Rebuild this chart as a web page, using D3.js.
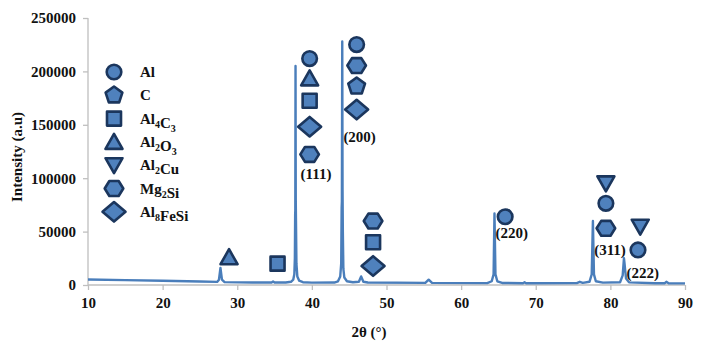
<!DOCTYPE html>
<html>
<head>
<meta charset="utf-8">
<script src="https://cdn.jsdelivr.net/npm/d3@7"></script>
<style>
  body { margin: 0; background: #fff; }
  text { font-family: "Liberation Serif", "Times New Roman", serif; font-weight: bold; fill: #111; }
</style>
</head>
<body>
<svg id="chart" width="708" height="343"></svg>
<script>
/* -------------------------- Data -------------------------- */
// XRD pattern (2theta in degrees, intensity a.u.)
var twoTheta = [10, 15, 20, 25, 27.3, 27.55, 27.75, 27.95, 28.3, 32, 34.6, 34.8, 35.0,
  36.5, 37.2, 37.5, 37.65, 37.72, 37.76, 37.78, 37.81, 37.84, 37.87, 37.93, 38.05, 38.3, 38.8, 40,
  43.0, 43.5, 43.8, 43.93, 43.99, 44.02, 44.07, 44.11, 44.15, 44.22, 44.35, 44.7, 45.5,
  46.3, 46.6, 46.9, 47.5, 55.2, 55.65, 56.1,
  63.5, 64.1, 64.35, 64.47, 64.6, 64.85, 65.5, 68.3, 68.5, 68.7,
  75.5, 75.9, 76.3, 77.2, 77.5, 77.66, 77.8, 78.05, 79,
  81.3, 81.65, 81.82, 81.9, 81.98, 82.1, 82.5, 86, 87.3, 87.5, 87.8, 90];
var intensity = [5200, 4600, 4000, 3300, 2900, 5000, 16000, 5000, 2700, 2400, 2300, 3200, 2300,
  2400, 3000, 5000, 10000, 25000, 66000, 70000, 205000, 80000, 60000, 20000, 8000, 4000, 2600, 2200,
  2300, 3500, 8000, 20000, 72000, 78000, 228000, 90000, 50000, 15000, 7000, 3500, 2600,
  3000, 8000, 3000, 2300, 2000, 5000, 2000,
  1800, 3500, 10000, 67000, 10000, 3500, 1900, 1700, 2500, 1700,
  1800, 3000, 2000, 3000, 10000, 60000, 10000, 3500, 2200,
  2600, 9000, 25000, 20000, 14000, 6000, 2500, 1600, 1700, 3000, 1700, 1500];

var xTicks = [10, 20, 30, 40, 50, 60, 70, 80, 90];
var yTicks = [0, 50000, 100000, 150000, 200000, 250000];

// phases (legend order) and their marker shapes
var phases = ['Al', 'C', 'Al4C3', 'Al2O3', 'Al2Cu', 'Mg2Si', 'Al8FeSi'];
var phaseShapes = ['circle', 'pentagon', 'square', 'triangleUp', 'triangleDown', 'hexagon', 'diamond'];

// phase markers placed on the pattern (2theta, intensity, phase index)
var markX = [28.9, 35.4,
  39.7, 39.7, 39.7, 39.7, 39.7,
  46.0, 46.0, 46.0, 46.0,
  48.2, 48.2, 48.2,
  65.9,
  79.4, 79.4, 79.4,
  84.0, 83.7];
var markY = [26000, 20000,
  212000, 193500, 172500, 148200, 122300,
  225100, 205500, 186000, 164300,
  59900, 40000, 17800,
  63900,
  95200, 76500, 53100,
  54600, 32800];
var markPhase = [3, 2,
  0, 3, 2, 6, 5,
  0, 5, 1, 6,
  5, 2, 6,
  0,
  4, 0, 5,
  4, 0];

// Miller indices of the Al reflections
var hkl = ['(111)', '(200)', '(220)', '(311)', '(222)'];
var hklX = [40.55, 46.4, 66.8, 79.95, 84.35];
var hklY = [103900, 138500, 48700, 32800, 11500];

/* ------------------------- Setup Chart ------------------------- */
var config = {
  left: 88, right: 685, top: 18, bottom: 285,
  line_color: '#4A7EBB',
  mark_fill: '#4F81BD',
  mark_stroke: '#1B365D',
  axis_color: '#BFBFBF'
};

var svg = d3.select('#chart');

var xScale = d3.scaleLinear().domain([10, 90]).range([config.left, config.right]);
var yScale = d3.scaleLinear().domain([0, 250000]).range([config.bottom, config.top]);

// y-axis
var yAxis = svg.append('g')
  .attr('transform', 'translate(' + config.left + ',0)')
  .call(d3.axisLeft(yScale).tickValues(yTicks).tickSize(5).tickPadding(7).tickFormat(d3.format('d')));
// x-axis
var xAxis = svg.append('g')
  .attr('transform', 'translate(0,' + config.bottom + ')')
  .call(d3.axisBottom(xScale).tickValues(xTicks).tickSize(5).tickPadding(7).tickFormat(d3.format('d')));

svg.selectAll('.domain, .tick line').attr('stroke', config.axis_color).attr('stroke-width', 1.3);
svg.selectAll('.tick text').attr('font-size', 15).attr('fill', '#111')
  .attr('font-family', '"Liberation Serif", serif').attr('font-weight', 'bold');
// axisLeft draws the domain with outer ticks; keep it a plain line
yAxis.select('.domain').attr('d', 'M0,' + config.bottom + 'V' + config.top);
xAxis.select('.domain').attr('d', 'M' + config.left + ',0H' + config.right);

// axis titles
svg.append('text')
  .attr('transform', 'translate(22,157) rotate(-90)')
  .attr('text-anchor', 'middle')
  .attr('font-size', 15)
  .text('Intensity (a.u)');

svg.append('text')
  .attr('x', 369).attr('y', 337)
  .attr('text-anchor', 'middle')
  .attr('font-size', 15)
  .text('2θ (°)');

/* ------------------------- Pattern ------------------------- */
var pattern = twoTheta.map(function (t, i) { return [t, intensity[i]]; });
var line = d3.line()
  .x(function (d) { return xScale(d[0]); })
  .y(function (d) { return yScale(d[1]); });

svg.append('path')
  .datum(pattern)
  .attr('d', line)
  .attr('fill', 'none')
  .attr('stroke', config.line_color)
  .attr('stroke-width', 2.4)
  .attr('stroke-linejoin', 'round');

/* ------------------------- Helper functions ------------------------- */
function polygon(n, rx, ry, start) {
  var pts = [];
  for (var k = 0; k < n; k++) {
    var a = start + k * 2 * Math.PI / n;
    pts.push([rx * Math.cos(a), ry * Math.sin(a)]);
  }
  return 'M' + pts.map(function (p) { return p[0].toFixed(2) + ',' + p[1].toFixed(2); }).join('L') + 'Z';
}

function shapePath(shape) {
  if (shape === 'circle') return d3.symbol(d3.symbolCircle, Math.PI * 7.3 * 7.3)();
  if (shape === 'square') return 'M-7,-7H7V7H-7Z';
  if (shape === 'triangleUp') return 'M0,-8L8.5,7H-8.5Z';
  if (shape === 'triangleDown') return 'M0,8L8.5,-7H-8.5Z';
  if (shape === 'pentagon') return polygon(5, 8.8, 8.8, -Math.PI / 2);
  if (shape === 'hexagon') return polygon(6, 9.3, 8.6, 0);
  if (shape === 'diamond') return 'M-11.5,0L0,-9.8L11.5,0L0,9.8Z';
}

function drawMark(g, shape) {
  g.append('path')
    .attr('d', shapePath(shape))
    .attr('fill', config.mark_fill)
    .attr('stroke', config.mark_stroke)
    .attr('stroke-width', 2.6)
    .attr('stroke-linejoin', 'round');
}

// chemical formula with subscript digits
function formula(textSel, name) {
  name.split(/(\d+)/).forEach(function (part) {
    if (part === '') return;
    if (/^\d+$/.test(part)) {
      textSel.append('tspan').attr('font-size', 10).attr('dy', 4).text(part);
      textSel.append('tspan').attr('dy', -4).text('');
    } else {
      textSel.append('tspan').text(part);
    }
  });
}

/* ------------------------- Markers ------------------------- */
markX.forEach(function (x, i) {
  var g = svg.append('g')
    .attr('transform', 'translate(' + xScale(x) + ',' + yScale(markY[i]) + ')');
  drawMark(g, phaseShapes[markPhase[i]]);
});

hkl.forEach(function (h, i) {
  svg.append('text')
    .attr('x', xScale(hklX[i]))
    .attr('y', yScale(hklY[i]) + 5)
    .attr('text-anchor', 'middle')
    .attr('font-size', 15)
    .text(h);
});

/* ------------------------- Legend ------------------------- */
var legend = svg.append('g').attr('transform', 'translate(114,72)');
phases.forEach(function (p, i) {
  var row = legend.append('g').attr('transform', 'translate(0,' + (i * 23.3) + ')');
  drawMark(row, phaseShapes[i]);
  var t = row.append('text').attr('x', 26).attr('y', 5).attr('font-size', 15);
  formula(t, p);
});
</script>
</body>
</html>
